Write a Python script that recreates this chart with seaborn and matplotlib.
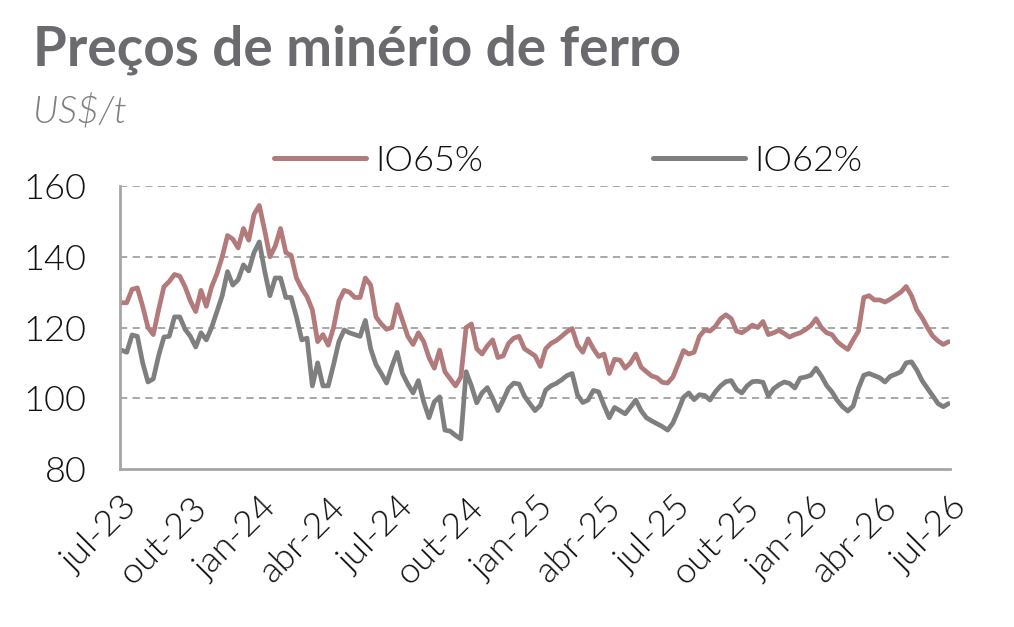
import pandas as pd
import matplotlib
matplotlib.use('Agg')
import matplotlib.pyplot as plt
import matplotlib.dates as mdates
import seaborn as sns

# Weekly iron ore prices (US$/t)
io65 = [127, 127, 130.8, 131.2, 126, 120, 118, 125, 131.5, 133,
        135, 134.5, 131.5, 127.5, 124.5, 130.5, 126, 131.5, 135.2, 140,
        146, 145, 142.5, 148, 144.7, 152, 154.5, 147.5, 140, 143,
        148, 141.2, 140.4, 134, 131, 128.7, 125, 116, 118, 115,
        120, 127.5, 130.5, 130, 128.5, 128.5, 134, 132, 123, 121,
        119.5, 120, 126.5, 122, 117.5, 115.2, 118.5, 116, 111.5, 108.5,
        113.6, 107.5, 105.5, 103.5, 106, 120, 121, 114, 112.5, 114.8,
        116.5, 111.5, 112, 115.5, 117, 117.5, 114, 113, 112, 109,
        114, 115.5, 116.3, 117.5, 118.8, 119.7, 115, 113, 116.8, 114,
        111.8, 112.5, 107, 111, 110.8, 108.5, 110, 112.5, 108.8, 107.5,
        106.3, 105.8, 104.5, 104.3, 106, 109.7, 113.5, 112.5, 113, 117.5,
        119.3, 119, 120.3, 122.5, 123.6, 122.5, 119, 118.5, 119.5, 120.7,
        120, 121.7, 118, 118.5, 119.2, 118.3, 117.3, 118, 118.5, 119.4,
        120.5, 122.5, 120, 118.5, 118, 116, 114.8, 113.8, 116.5, 119,
        128.5, 129, 127.8, 127.8, 127.2, 128, 129, 130, 131.6, 129,
        125, 122.8, 120, 117.6, 116.2, 115.2, 116]

io62 = [113.6, 113, 117.9, 117.5, 110, 104.6, 105.5, 112, 117.3, 117.5,
        123, 123, 119.5, 117.5, 114.5, 118.5, 116.5, 120, 124.5, 129,
        135.8, 132, 133.5, 137.7, 136, 141.2, 144.2, 136, 129, 134,
        134, 128.5, 128.5, 123, 116.5, 117, 103.5, 110, 103.5, 103.5,
        109.5, 116, 119.3, 118.5, 118, 117.5, 122, 114, 109.5, 107,
        104.3, 109, 113, 107, 104, 101.5, 105, 99, 94.5, 99,
        100.4, 91, 90.7, 89.5, 88.5, 107.5, 103.5, 98.7, 101.5, 103,
        100, 96.5, 99.5, 102.8, 104.3, 104, 100.6, 98.5, 96.5, 98,
        102.3, 103.5, 104.2, 105.2, 106.4, 107, 101, 98.8, 99.5, 102.2,
        101.8, 98, 94.5, 97.4, 96.5, 95.6, 97.5, 99.5, 96.5, 94.5,
        93.6, 92.8, 92, 91, 93, 96.5, 100.3, 101.5, 99.6, 101,
        100.8, 99.5, 101.8, 103.5, 104.7, 105, 102.5, 101.5, 103.5, 104.7,
        104.8, 104.5, 100.6, 102.7, 103.8, 104.6, 104.2, 102.9, 105.7, 106,
        106.5, 108.5, 106.3, 103.6, 101.8, 99.4, 97.6, 96.4, 97.8, 102.8,
        106.5, 107, 106.4, 105.8, 104.6, 106.2, 106.8, 107.5, 110, 110.3,
        108, 105, 102.8, 100.7, 98.5, 97.6, 98.5]

dates = pd.date_range('2023-07-03', periods=len(io65), freq='7D')
series_names = ['IO65%', 'IO62%']
colors = ['#b27a7a', '#7f7f7f']

df = pd.DataFrame({'data': dates, 'IO65%': io65, 'IO62%': io62})
long = df.melt(id_vars='data', var_name='serie', value_name='preco')

sns.set_style('white')
plt.rcParams['font.family'] = ['Lato', 'DejaVu Sans']

fig = plt.figure(figsize=(10.14, 6.27), dpi=100)
ax = fig.add_axes([0.1183, 0.252, 0.8187, 0.4513])

sns.lineplot(data=long, x='data', y='preco', hue='serie', hue_order=series_names,
             palette=colors, linewidth=3.4, ax=ax)

ax.set_xlim(pd.Timestamp('2023-07-01'), pd.Timestamp('2026-07-01'))
ax.set_ylim(80, 160)
ax.set_yticks([80, 100, 120, 140, 160])
ax.set_xlabel('')
ax.set_ylabel('')

for v in [100, 120, 140, 160]:
    ax.axhline(v, color='#a0a0a0', linestyle=(0, (4, 3)), linewidth=1.3, zorder=0)

for s in ['top', 'right']:
    ax.spines[s].set_visible(False)
for s in ['left', 'bottom']:
    ax.spines[s].set_color('#a6a6a6')
    ax.spines[s].set_linewidth(2)

ax.xaxis.set_major_locator(mdates.MonthLocator(bymonth=[1, 4, 7, 10]))
month_pt = {1: 'jan', 4: 'abr', 7: 'jul', 10: 'out'}
ax.xaxis.set_major_formatter(plt.FuncFormatter(
    lambda x, pos: '%s-%s' % (month_pt[mdates.num2date(x).month], mdates.num2date(x).strftime('%y'))))
ax.tick_params(axis='both', length=0, colors='#111111')
ax.tick_params(axis='y', labelsize=26, pad=24)
ax.tick_params(axis='x', labelsize=26, pad=16)
for lbl in ax.get_xticklabels():
    lbl.set_rotation(45)
    lbl.set_ha('right')
    lbl.set_rotation_mode('anchor')
for lbl in ax.get_xticklabels() + ax.get_yticklabels():
    lbl.set_fontweight(300)

leg = ax.legend(loc='center', bbox_to_anchor=(0.54, 1.088), ncol=2, frameon=False,
                fontsize=26, handlelength=2.55, columnspacing=4.7, handletextpad=0.25)
for t in leg.get_texts():
    t.set_color('#111111')
    t.set_fontweight(300)
for h in leg.get_lines():
    h.set_linewidth(3.6)

fig.text(0.033, 0.896, 'Preços de minério de ferro', fontsize=39.5, fontweight='bold',
         color='#6a6a6f')
fig.text(0.033, 0.805, 'US$/t', fontsize=27, fontstyle='italic', fontweight=300,
         color='#7f7f7f')

fig.savefig('out.png', dpi=100)
